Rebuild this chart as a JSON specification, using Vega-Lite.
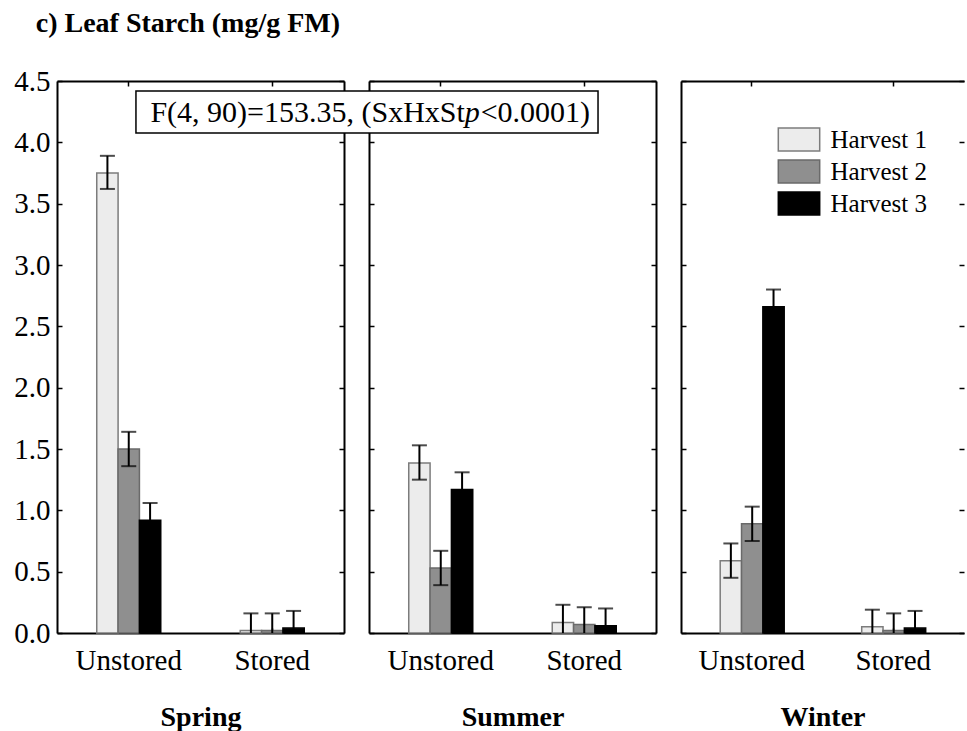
{
  "$schema": "https://vega.github.io/schema/vega-lite/v6.json",
  "background": "white",
  "bounds": "flush",
  "padding": {"left": 13, "top": 10, "right": 0, "bottom": 0},
  "title": {"text": "c) Leaf Starch (mg/g FM)", "anchor": "start", "font": "Liberation Serif", "fontSize": 28, "fontWeight": "bold", "color": "black", "dx": 22, "offset": 29},
  "config": {
    "view": {"stroke": null},
    "font": "Liberation Serif",
    "concat": {"spacing": 25},
    "axis": {"grid": false, "domainColor": "black", "domainWidth": 2, "tickColor": "black", "tickWidth": 1.5, "tickSize": -5, "labelFont": "Liberation Serif", "labelFontSize": 29, "labelColor": "black", "titleFont": "Liberation Serif", "titleFontSize": 28, "titleFontWeight": "bold", "titleColor": "black"},
    "legend": {"orient": "none", "legendX": 729.5, "legendY": 46, "padding": 0, "labelFont": "Liberation Serif", "labelFontSize": 25, "labelColor": "black", "labelOffset": 19, "rowPadding": 3, "symbolStrokeWidth": 1.5, "symbolOpacity": 1}
  },
  "data": {"values": [
    {"season": "Spring", "condition": "Unstored", "harvest": "Harvest 1", "value": 3.75, "lo": 3.62, "hi": 3.89},
    {"season": "Spring", "condition": "Unstored", "harvest": "Harvest 2", "value": 1.5, "lo": 1.36, "hi": 1.64},
    {"season": "Spring", "condition": "Unstored", "harvest": "Harvest 3", "value": 0.92, "lo": 0.78, "hi": 1.06},
    {"season": "Spring", "condition": "Stored", "harvest": "Harvest 1", "value": 0.02, "lo": -0.12, "hi": 0.16},
    {"season": "Spring", "condition": "Stored", "harvest": "Harvest 2", "value": 0.02, "lo": -0.12, "hi": 0.16},
    {"season": "Spring", "condition": "Stored", "harvest": "Harvest 3", "value": 0.04, "lo": -0.1, "hi": 0.18},
    {"season": "Summer", "condition": "Unstored", "harvest": "Harvest 1", "value": 1.385, "lo": 1.25, "hi": 1.53},
    {"season": "Summer", "condition": "Unstored", "harvest": "Harvest 2", "value": 0.53, "lo": 0.39, "hi": 0.67},
    {"season": "Summer", "condition": "Unstored", "harvest": "Harvest 3", "value": 1.17, "lo": 1.03, "hi": 1.31},
    {"season": "Summer", "condition": "Stored", "harvest": "Harvest 1", "value": 0.085, "lo": -0.06, "hi": 0.23},
    {"season": "Summer", "condition": "Stored", "harvest": "Harvest 2", "value": 0.07, "lo": -0.07, "hi": 0.21},
    {"season": "Summer", "condition": "Stored", "harvest": "Harvest 3", "value": 0.06, "lo": -0.08, "hi": 0.2},
    {"season": "Winter", "condition": "Unstored", "harvest": "Harvest 1", "value": 0.59, "lo": 0.45, "hi": 0.73},
    {"season": "Winter", "condition": "Unstored", "harvest": "Harvest 2", "value": 0.89, "lo": 0.75, "hi": 1.03},
    {"season": "Winter", "condition": "Unstored", "harvest": "Harvest 3", "value": 2.66, "lo": 2.52, "hi": 2.8},
    {"season": "Winter", "condition": "Stored", "harvest": "Harvest 1", "value": 0.05, "lo": -0.09, "hi": 0.19},
    {"season": "Winter", "condition": "Stored", "harvest": "Harvest 2", "value": 0.02, "lo": -0.12, "hi": 0.16},
    {"season": "Winter", "condition": "Stored", "harvest": "Harvest 3", "value": 0.04, "lo": -0.1, "hi": 0.18}
  ]},
  "hconcat": [
    {
      "width": 287, "height": 552,
      "transform": [{"filter": "datum.season === 'Spring'"}],
      "layer": [
        {"mark": {"type": "bar", "strokeWidth": 1.5},
         "encoding": {
           "x": {"field": "condition", "type": "nominal", "sort": ["Unstored", "Stored"], "scale": {"paddingInner": 0.554, "paddingOuter": 0.277}, "axis": {"orient": "bottom", "title": "Spring", "labelAngle": 0, "labelPadding": 18, "titlePadding": 28}},
           "xOffset": {"field": "harvest", "type": "nominal", "scale": {"paddingInner": 0, "paddingOuter": 0}},
           "y": {"field": "value", "type": "quantitative", "scale": {"domain": [0, 4.5], "nice": false}, "axis": {"orient": "left", "title": null, "values": [0, 0.5, 1, 1.5, 2, 2.5, 3, 3.5, 4, 4.5], "format": ".1f", "labelPadding": 12}},
           "fill": {"field": "harvest", "type": "nominal", "scale": {"range": ["#ececec", "#8f8f8f", "#000000"]}, "legend": {"title": null, "symbolType": "M-1.8,-1H1.8V1H-1.8Z", "symbolSize": 529}},
           "stroke": {"field": "harvest", "type": "nominal", "scale": {"range": ["#7c7c7c", "#6a6a6a", "#000000"]}, "legend": {"title": null, "symbolType": "M-1.8,-1H1.8V1H-1.8Z", "symbolSize": 529}}
         }},
        {"mark": {"type": "rule", "color": "black", "strokeWidth": 2, "clip": true},
         "encoding": {
           "x": {"field": "condition", "type": "nominal", "sort": ["Unstored", "Stored"], "axis": {"orient": "top", "labels": false, "title": null}},
           "xOffset": {"field": "harvest", "type": "nominal"},
           "y": {"field": "lo", "type": "quantitative", "scale": {"domain": [0, 4.5], "nice": false}, "axis": {"orient": "right", "labels": false, "title": null, "values": [0, 0.5, 1, 1.5, 2, 2.5, 3, 3.5, 4, 4.5]}},
           "y2": {"field": "hi"}
         }},
        {"mark": {"type": "tick", "color": "black", "thickness": 2, "size": 15},
         "encoding": {
           "x": {"field": "condition", "type": "nominal", "sort": ["Unstored", "Stored"], "axis": null},
           "xOffset": {"field": "harvest", "type": "nominal"},
           "y": {"field": "hi", "type": "quantitative", "scale": {"domain": [0, 4.5], "nice": false}, "axis": null}
         }},
        {"mark": {"type": "tick", "color": "black", "thickness": 2, "size": 15, "clip": true},
         "encoding": {
           "x": {"field": "condition", "type": "nominal", "sort": ["Unstored", "Stored"], "axis": null},
           "xOffset": {"field": "harvest", "type": "nominal"},
           "y": {"field": "lo", "type": "quantitative", "scale": {"domain": [0, 4.5], "nice": false}, "axis": null}
         }}
      ],
      "resolve": {"axis": {"x": "independent", "y": "independent"}}
    },
    {
      "width": 287, "height": 552,
      "layer": [
        {
          "transform": [{"filter": "datum.season === 'Summer'"}],
          "layer": [
            {"mark": {"type": "bar", "strokeWidth": 1.5},
             "encoding": {
               "x": {"field": "condition", "type": "nominal", "sort": ["Unstored", "Stored"], "scale": {"paddingInner": 0.554, "paddingOuter": 0.277}, "axis": {"orient": "bottom", "title": "Summer", "labelAngle": 0, "labelPadding": 18, "titlePadding": 28}},
               "xOffset": {"field": "harvest", "type": "nominal", "scale": {"paddingInner": 0, "paddingOuter": 0}},
               "y": {"field": "value", "type": "quantitative", "scale": {"domain": [0, 4.5], "nice": false}, "axis": {"orient": "left", "title": null, "labels": false, "values": [0, 0.5, 1, 1.5, 2, 2.5, 3, 3.5, 4, 4.5]}},
               "fill": {"field": "harvest", "type": "nominal", "scale": {"range": ["#ececec", "#8f8f8f", "#000000"]}, "legend": {"title": null, "symbolType": "M-1.8,-1H1.8V1H-1.8Z", "symbolSize": 529}},
               "stroke": {"field": "harvest", "type": "nominal", "scale": {"range": ["#7c7c7c", "#6a6a6a", "#000000"]}, "legend": {"title": null, "symbolType": "M-1.8,-1H1.8V1H-1.8Z", "symbolSize": 529}}
             }},
            {"mark": {"type": "rule", "color": "black", "strokeWidth": 2, "clip": true},
             "encoding": {
               "x": {"field": "condition", "type": "nominal", "sort": ["Unstored", "Stored"], "axis": {"orient": "top", "labels": false, "title": null}},
               "xOffset": {"field": "harvest", "type": "nominal"},
               "y": {"field": "lo", "type": "quantitative", "scale": {"domain": [0, 4.5], "nice": false}, "axis": {"orient": "right", "labels": false, "title": null, "values": [0, 0.5, 1, 1.5, 2, 2.5, 3, 3.5, 4, 4.5]}},
               "y2": {"field": "hi"}
             }},
            {"mark": {"type": "tick", "color": "black", "thickness": 2, "size": 15},
             "encoding": {
               "x": {"field": "condition", "type": "nominal", "sort": ["Unstored", "Stored"], "axis": null},
               "xOffset": {"field": "harvest", "type": "nominal"},
               "y": {"field": "hi", "type": "quantitative", "scale": {"domain": [0, 4.5], "nice": false}, "axis": null}
             }},
            {"mark": {"type": "tick", "color": "black", "thickness": 2, "size": 15, "clip": true},
             "encoding": {
               "x": {"field": "condition", "type": "nominal", "sort": ["Unstored", "Stored"], "axis": null},
               "xOffset": {"field": "harvest", "type": "nominal"},
               "y": {"field": "lo", "type": "quantitative", "scale": {"domain": [0, 4.5], "nice": false}, "axis": null}
             }}
          ],
          "resolve": {"axis": {"x": "independent", "y": "independent"}}
        },
        {
          "data": {"values": [{"part1": "F(4, 90)=153.35, (SxHxSt", "part2": "p", "part3": "<0.0001)"}]},
          "layer": [
            {"mark": {"type": "rect", "fill": "white", "stroke": "black", "strokeWidth": 1.5},
             "encoding": {
               "x": {"datum": -0.812, "type": "quantitative", "scale": {"domain": [0, 1], "nice": false, "zero": false}, "axis": null},
               "x2": {"datum": 0.798},
               "y": {"datum": 4.418, "type": "quantitative", "scale": {"domain": [0, 4.5], "nice": false}, "axis": null},
               "y2": {"datum": 4.076}
             }},
            {"mark": {"type": "text", "align": "right", "baseline": "alphabetic", "font": "Liberation Serif", "fontSize": 30, "color": "black"},
             "encoding": {
               "x": {"datum": 0.334, "type": "quantitative", "axis": null},
               "y": {"datum": 4.166, "type": "quantitative", "axis": null},
               "text": {"field": "part1"}
             }},
            {"mark": {"type": "text", "align": "left", "baseline": "alphabetic", "font": "Liberation Serif", "fontSize": 30, "fontStyle": "italic", "color": "black"},
             "encoding": {
               "x": {"datum": 0.334, "type": "quantitative", "axis": null},
               "y": {"datum": 4.166, "type": "quantitative", "axis": null},
               "text": {"field": "part2"}
             }},
            {"mark": {"type": "text", "align": "left", "baseline": "alphabetic", "font": "Liberation Serif", "fontSize": 30, "color": "black"},
             "encoding": {
               "x": {"datum": 0.389, "type": "quantitative", "axis": null},
               "y": {"datum": 4.166, "type": "quantitative", "axis": null},
               "text": {"field": "part3"}
             }}
          ]
        }
      ],
      "resolve": {"scale": {"x": "independent"}}
    },
    {
      "width": 283, "height": 552,
      "transform": [{"filter": "datum.season === 'Winter'"}],
      "layer": [
        {"mark": {"type": "bar", "strokeWidth": 1.5},
         "encoding": {
           "x": {"field": "condition", "type": "nominal", "sort": ["Unstored", "Stored"], "scale": {"paddingInner": 0.554, "paddingOuter": 0.277}, "axis": {"orient": "bottom", "title": "Winter", "labelAngle": 0, "labelPadding": 18, "titlePadding": 28}},
           "xOffset": {"field": "harvest", "type": "nominal", "scale": {"paddingInner": 0, "paddingOuter": 0}},
           "y": {"field": "value", "type": "quantitative", "scale": {"domain": [0, 4.5], "nice": false}, "axis": {"orient": "left", "title": null, "labels": false, "values": [0, 0.5, 1, 1.5, 2, 2.5, 3, 3.5, 4, 4.5]}},
           "fill": {"field": "harvest", "type": "nominal", "scale": {"range": ["#ececec", "#8f8f8f", "#000000"]}, "legend": {"title": null, "symbolType": "M-1.8,-1H1.8V1H-1.8Z", "symbolSize": 529}},
           "stroke": {"field": "harvest", "type": "nominal", "scale": {"range": ["#7c7c7c", "#6a6a6a", "#000000"]}, "legend": {"title": null, "symbolType": "M-1.8,-1H1.8V1H-1.8Z", "symbolSize": 529}}
         }},
        {"mark": {"type": "rule", "color": "black", "strokeWidth": 2, "clip": true},
         "encoding": {
           "x": {"field": "condition", "type": "nominal", "sort": ["Unstored", "Stored"], "axis": {"orient": "top", "labels": false, "title": null}},
           "xOffset": {"field": "harvest", "type": "nominal"},
           "y": {"field": "lo", "type": "quantitative", "scale": {"domain": [0, 4.5], "nice": false}, "axis": {"orient": "right", "labels": false, "title": null, "domain": false, "values": [0, 0.5, 1, 1.5, 2, 2.5, 3, 3.5, 4, 4.5]}},
           "y2": {"field": "hi"}
         }},
        {"mark": {"type": "tick", "color": "black", "thickness": 2, "size": 15},
         "encoding": {
           "x": {"field": "condition", "type": "nominal", "sort": ["Unstored", "Stored"], "axis": null},
           "xOffset": {"field": "harvest", "type": "nominal"},
           "y": {"field": "hi", "type": "quantitative", "scale": {"domain": [0, 4.5], "nice": false}, "axis": null}
         }},
        {"mark": {"type": "tick", "color": "black", "thickness": 2, "size": 15, "clip": true},
         "encoding": {
           "x": {"field": "condition", "type": "nominal", "sort": ["Unstored", "Stored"], "axis": null},
           "xOffset": {"field": "harvest", "type": "nominal"},
           "y": {"field": "lo", "type": "quantitative", "scale": {"domain": [0, 4.5], "nice": false}, "axis": null}
         }}
      ],
      "resolve": {"axis": {"x": "independent", "y": "independent"}}
    }
  ]
}
